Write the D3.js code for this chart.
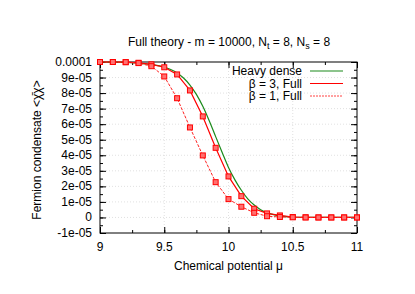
<!DOCTYPE html>
<html>
<head>
<meta charset="utf-8">
<script src="https://cdn.jsdelivr.net/npm/d3@7"></script>
<style>
  body { margin: 0; background: #fff; }
  text { font-family: "Liberation Sans", Arial, sans-serif; font-size: 12px; fill: #000; }
</style>
</head>
<body>
<svg width="415" height="294"></svg>
<script>
// condensate values are in units of 1e-5
var mu = [9.0, 9.1, 9.2, 9.3, 9.4, 9.5, 9.6, 9.7, 9.8, 9.9, 10.0,
  10.1, 10.2, 10.3, 10.4, 10.5, 10.6, 10.7, 10.8, 10.9, 11.0];
var beta3Full = [10, 10, 9.99, 9.95, 9.85, 9.66, 9.2, 8.17, 6.5, 4.48, 2.64,
  1.37, 0.56, 0.26, 0.13, 0.03, 0.01, 0, 0, 0, 0];
var beta1Full = [10, 10, 9.99, 9.93, 9.73, 9.07, 7.67, 5.79, 3.99, 2.27, 1.18,
  0.69, 0.30, 0.08, 0.03, 0.01, 0, 0, 0, 0, 0];
var heavyMu = [9.0, 9.1, 9.2, 9.3, 9.4, 9.5, 9.55, 9.6, 9.65, 9.7, 9.75, 9.8, 9.85,
  9.9, 9.95, 10.0, 10.05, 10.1, 10.15, 10.2, 10.25, 10.3, 10.35, 10.4, 10.45,
  10.5, 10.6, 10.7, 10.8, 10.9, 11.0];
var heavyDense = [10, 9.99, 9.97, 9.93, 9.84, 9.68, 9.52, 9.3, 8.97, 8.52, 7.92, 7.15, 6.22,
  5.2, 4.2, 3.22, 2.42, 1.75, 1.2, 0.8, 0.5, 0.3, 0.18, 0.1, 0.05,
  0.03, 0.01, 0, 0, 0, 0];

var xTicks = [9, 9.5, 10, 10.5, 11];
var xTickLabels = ["9", "9.5", "10", "10.5", "11"];
var yTicks = [-1, 0, 1, 2, 3, 4, 5, 6, 7, 8, 9, 10];
var yTickLabels = ["-1e-05", "0", "1e-05", "2e-05", "3e-05", "4e-05", "5e-05",
  "6e-05", "7e-05", "8e-05", "9e-05", "0.0001"];

var svg = d3.select("svg");
var pLeft = 100, pRight = 357, pTop = 62, pBottom = 233;

var x = d3.scaleLinear().domain([9, 11]).range([pLeft, pRight]);
var y = d3.scaleLinear().domain([-1, 10]).range([pBottom, pTop]);

// grid
var grid = svg.append("g").attr("stroke", "#ccc").attr("stroke-width", 0.6)
  .attr("stroke-dasharray", "1,2");
xTicks.slice(1, -1).forEach(function (t) {
  grid.append("line").attr("x1", x(t)).attr("x2", x(t)).attr("y1", pTop).attr("y2", pBottom);
});
yTicks.slice(1, -1).forEach(function (t) {
  grid.append("line").attr("x1", pLeft).attr("x2", pRight).attr("y1", y(t)).attr("y2", y(t));
});

// axes (ticks inward, mirrored)
var xMinor = d3.range(9, 11.01, 0.25);
var yMinor = d3.range(-1, 10.01, 0.5);
function addAxis(axis, tr) {
  var g = svg.append("g").attr("transform", tr).call(axis);
  g.select(".domain").remove();
  g.selectAll("text").remove();
  return g;
}
addAxis(d3.axisBottom(x).tickValues(xMinor).tickSize(-3), "translate(0," + pBottom + ")");
addAxis(d3.axisBottom(x).tickValues(xTicks).tickSize(-6), "translate(0," + pBottom + ")");
addAxis(d3.axisTop(x).tickValues(xMinor).tickSize(-3), "translate(0," + pTop + ")");
addAxis(d3.axisTop(x).tickValues(xTicks).tickSize(-6), "translate(0," + pTop + ")");
addAxis(d3.axisLeft(y).tickValues(yMinor).tickSize(-3), "translate(" + pLeft + ",0)");
addAxis(d3.axisLeft(y).tickValues(yTicks).tickSize(-6), "translate(" + pLeft + ",0)");
addAxis(d3.axisRight(y).tickValues(yMinor).tickSize(-3), "translate(" + pRight + ",0)");
addAxis(d3.axisRight(y).tickValues(yTicks).tickSize(-6), "translate(" + pRight + ",0)");

svg.append("rect").attr("x", pLeft).attr("y", pTop)
  .attr("width", pRight - pLeft).attr("height", pBottom - pTop)
  .attr("fill", "none").attr("stroke", "#000").attr("stroke-width", 1);

svg.selectAll(".xl").data(xTicks).enter().append("text")
  .attr("x", function (d) { return x(d); }).attr("y", 251)
  .attr("text-anchor", "middle")
  .text(function (d, i) { return xTickLabels[i]; });

svg.selectAll(".yl").data(yTicks).enter().append("text")
  .attr("x", 92).attr("y", function (d) { return y(d) + 4; })
  .attr("text-anchor", "end")
  .text(function (d, i) { return yTickLabels[i]; });

// titles
var title = svg.append("text").attr("x", 229).attr("y", 46).attr("text-anchor", "middle");
title.append("tspan").text("Full theory - m = 10000, N");
title.append("tspan").attr("dy", 3).style("font-size", "9px").text("t");
title.append("tspan").attr("dy", -3).text(" = 8, N");
title.append("tspan").attr("dy", 3).style("font-size", "9px").text("s");
title.append("tspan").attr("dy", -3).text(" = 8");

svg.append("text").attr("x", 228.5).attr("y", 270).attr("text-anchor", "middle")
  .text("Chemical potential \u03bc");

svg.append("text").attr("transform", "translate(41,150) rotate(-90)")
  .attr("text-anchor", "middle")
  .text("Fermion condensate <\u03c7\u0304\u03c7>");

// curves
var smooth = d3.line()
  .x(function (d) { return x(d[0]); })
  .y(function (d) { return y(d[1]); })
  .curve(d3.curveMonotoneX);
var straight = d3.line()
  .x(function (d) { return x(d[0]); })
  .y(function (d) { return y(d[1]); });

svg.append("path").datum(d3.zip(heavyMu, heavyDense))
  .attr("d", smooth).attr("fill", "none").attr("stroke", "#1a8a1a").attr("stroke-width", 1.2);

svg.append("path").datum(d3.zip(mu, beta3Full))
  .attr("d", straight).attr("fill", "none").attr("stroke", "#ff0000").attr("stroke-width", 1.2);

svg.append("path").datum(d3.zip(mu, beta1Full))
  .attr("d", straight).attr("fill", "none").attr("stroke", "#ff2020")
  .attr("stroke-width", 1).attr("stroke-dasharray", "3,1.5");

[beta3Full, beta1Full].forEach(function (s) {
  svg.append("g").selectAll("rect").data(d3.zip(mu, s)).enter().append("rect")
    .attr("x", function (d) { return x(d[0]) - 2.5; })
    .attr("y", function (d) { return y(d[1]) - 2.5; })
    .attr("width", 5).attr("height", 5)
    .attr("fill", "#ff7070").attr("stroke", "#ff0000").attr("stroke-width", 1);
});

// legend
var legend = [
  { name: "Heavy dense", color: "#1a8a1a", dash: null, w: 1.2 },
  { name: "\u03b2 = 3, Full", color: "#ff0000", dash: null, w: 1.2 },
  { name: "\u03b2 = 1, Full", color: "#ff4040", dash: "2,1", w: 1 }
];
legend.forEach(function (l, i) {
  var yy = 71 + i * 12.5;
  svg.append("text").attr("x", 302).attr("y", yy + 4).attr("text-anchor", "end").text(l.name);
  svg.append("line").attr("x1", 310).attr("x2", 343).attr("y1", yy).attr("y2", yy)
    .attr("stroke", l.color).attr("stroke-width", l.w)
    .attr("stroke-dasharray", l.dash);
});
</script>
</body>
</html>
